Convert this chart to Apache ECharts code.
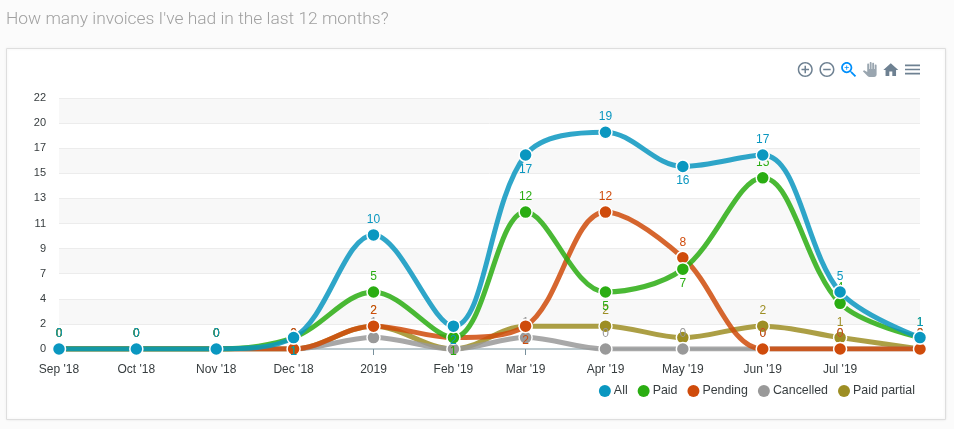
<!DOCTYPE html>
<html>
<head>
<meta charset="utf-8">
<title>Invoices</title>
<script src="https://cdn.jsdelivr.net/npm/echarts@6/dist/echarts.min.js"></script>
<style>
html, body { margin: 0; padding: 0; background: #fbfbfb; }
#main { width: 954px; height: 429px; }
</style>
</head>
<body>
<div id="main"></div>
<script>
// months are real dates, the axis spacing in the chart follows days per month
var dates = ['2018-09-01', '2018-10-01', '2018-11-01', '2018-12-01', '2019-01-01', '2019-02-01',
    '2019-03-01', '2019-04-01', '2019-05-01', '2019-06-01', '2019-07-01', '2019-08-01'];
var xLabels = ["Sep '18", "Oct '18", "Nov '18", "Dec '18", '2019', "Feb '19",
    "Mar '19", "Apr '19", "May '19", "Jun '19", "Jul '19", ''];
var yLabels = ['0', '2', '4', '7', '9', '11', '13', '15', '17', '20', '22'];

var all = [0, 0, 0, 1, 10, 2, 17, 19, 16, 17, 5, 1];
var paid = [0, 0, 0, 1, 5, 1, 12, 5, 7, 15, 4, 1];
var pending = [0, 0, 0, 0, 2, 1, 2, 12, 8, 0, 0, 0];
var cancelled = [0, 0, 0, 0, 1, 0, 1, 0, 0, 0, 0, 0];
var paidPartial = [0, 0, 0, 0, 2, 0, 2, 2, 1, 2, 1, 0];

var times = dates.map(function (d) { return Date.parse(d); });

var ICON_PLUS = 'path://M13 7h-2v4H7v2h4v4h2v-4h4v-2h-4V7zm-1-5C6.48 2 2 6.48 2 12s4.48 10 10 10 10-4.48 10-10S17.52 2 12 2zm0 18c-4.41 0-8-3.59-8-8s3.59-8 8-8 8 3.59 8 8-3.59 8-8 8z';
var ICON_MINUS = 'path://M7 11v2h10v-2H7zm5-9C6.48 2 2 6.48 2 12s4.48 10 10 10 10-4.48 10-10S17.52 2 12 2zm0 18c-4.41 0-8-3.59-8-8s3.59-8 8-8 8 3.59 8 8-3.59 8-8 8z';
var ICON_ZOOM = 'path://M15.5 14h-.79l-.28-.27C15.41 12.59 16 11.11 16 9.5 16 5.91 13.09 3 9.5 3S3 5.91 3 9.5 5.91 16 9.5 16c1.61 0 3.09-.59 4.23-1.57l.27.28v.79l5 4.99L20.49 19l-4.99-5zm-6 0C7.01 14 5 11.99 5 9.5S7.01 5 9.5 5 14 7.01 14 9.5 11.99 14 9.5 14zM12 10h-2v2H9v-2H7V9h2V7h1v2h2v1z';
var ICON_HAND = 'path://M23 5.5V20c0 2.2-1.8 4-4 4h-7.3c-1.08 0-2.1-.43-2.85-1.19L1 14.83s1.26-1.23 1.3-1.25c.22-.19.49-.29.79-.29.22 0 .42.06.6.16.04.01 4.31 2.46 4.31 2.46V4c0-.83.67-1.5 1.5-1.5S11 3.17 11 4v7h1V1.5c0-.83.67-1.5 1.5-1.5S15 .67 15 1.5V11h1V2.5c0-.83.67-1.5 1.5-1.5s1.5.67 1.5 1.5V11h1V5.5c0-.83.67-1.5 1.5-1.5s1.5.67 1.5 1.5z';
var ICON_HOME = 'path://M10 20v-6h4v6h5v-8h3L12 3 2 12h3v8z';
var ICON_MENU = 'path://M3 18h18v-2H3v2zm0-5h18v-2H3v2zm0-7v2h18V6H3z';

function tool(icon, color) {
    return {
        show: true,
        title: ' ',
        icon: icon,
        iconStyle: { color: color, borderWidth: 0 },
        onclick: function () {}
    };
}

// label sits under the point when the line keeps rising, above otherwise
function makeSeries(name, values, color, z) {
    return {
        name: name,
        type: 'line',
        z: z,
        smooth: 0.35,
        symbol: 'circle',
        symbolSize: 13,
        showAllSymbol: true,
        lineStyle: { width: 5, color: color, opacity: 0.85 },
        itemStyle: { color: color, borderColor: '#fff', borderWidth: 1.5 },
        data: values.map(function (v, i) {
            var below = v > 0 && i < values.length - 1 && v <= values[i + 1];
            return {
                value: [times[i], v],
                label: { position: below ? 'bottom' : 'top', distance: below ? 1 : 2 }
            };
        }),
        label: {
            show: true,
            color: color,
            fontSize: 12,
            fontFamily: 'Liberation Sans',
            formatter: function (p) { return p.value[1]; }
        }
    };
}

var chart = echarts.init(document.getElementById('main'));
chart.setOption({
    animation: false,
    title: {
        text: "How many invoices I've had in the last 12 months?",
        left: 6,
        top: 11,
        padding: 0,
        textStyle: { fontFamily: 'Roboto', fontWeight: 300, fontSize: 17.4, color: '#a0a0a0' }
    },
    graphic: [
        {
            type: 'rect',
            z: -10,
            shape: { x: 6.5, y: 48.5, width: 939, height: 371 },
            style: { fill: '#fff', stroke: '#dedede', lineWidth: 1, shadowBlur: 3, shadowColor: 'rgba(0,0,0,0.08)' }
        }
    ],
    toolbox: {
        right: 34,
        top: 62,
        padding: 0,
        itemSize: 15,
        itemGap: 6.7,
        showTitle: false,
        feature: {
            myPlus: tool(ICON_PLUS, '#6e8192'),
            myMinus: tool(ICON_MINUS, '#6e8192'),
            myZoom: tool(ICON_ZOOM, '#008ffb'),
            myHand: tool(ICON_HAND, '#9aa6b0'),
            myHome: tool(ICON_HOME, '#6e8192'),
            myMenu: tool(ICON_MENU, '#6e8192')
        }
    },
    tooltip: {
        trigger: 'item',
        formatter: function (p) { return p.seriesName + '<br/>' + xLabels[p.dataIndex] + ': ' + p.value[1]; }
    },
    legend: {
        right: 34,
        top: 380,
        icon: 'circle',
        itemWidth: 12,
        itemHeight: 12,
        itemGap: 10,
        itemStyle: { borderWidth: 0 },
        textStyle: { fontFamily: 'Liberation Sans', fontSize: 12.4, color: '#373d3f', padding: [0, 0, 0, -2] },
        data: ['All', 'Paid', 'Pending', 'Cancelled', 'Paid partial']
    },
    grid: { left: 59, right: 34, top: 98, bottom: 80 },
    xAxis: {
        type: 'value',
        min: times[0],
        max: times[times.length - 1],
        axisLine: { onZero: false, lineStyle: { color: '#bcc9ce', width: 2 } },
        axisTick: { customValues: times, length: 6, lineStyle: { color: '#78909c' } },
        axisLabel: {
            customValues: times,
            margin: 15,
            fontFamily: 'Liberation Sans',
            fontSize: 12,
            color: '#373d3f',
            hideOverlap: false,
            formatter: function (v) { return xLabels[times.indexOf(v)]; }
        },
        splitLine: { show: false }
    },
    yAxis: {
        type: 'value',
        min: 0,
        max: 22,
        interval: 2.2,
        axisLine: { show: false },
        axisTick: { show: false },
        axisLabel: {
            margin: 13,
            fontFamily: 'Liberation Sans',
            fontSize: 11,
            color: '#373d3f',
            formatter: function (v, i) { return yLabels[i]; }
        },
        splitLine: { lineStyle: { color: '#ececec' } },
        splitArea: { show: true, areaStyle: { color: ['#ffffff', '#f8f8f8'] } }
    },
    series: [
        makeSeries('All', all, '#0a97c0', 6),
        makeSeries('Paid', paid, '#2aad12', 5),
        makeSeries('Pending', pending, '#cf4b0b', 4),
        makeSeries('Cancelled', cancelled, '#999999', 3),
        makeSeries('Paid partial', paidPartial, '#9d8e24', 2)
    ]
});
</script>
</body>
</html>
